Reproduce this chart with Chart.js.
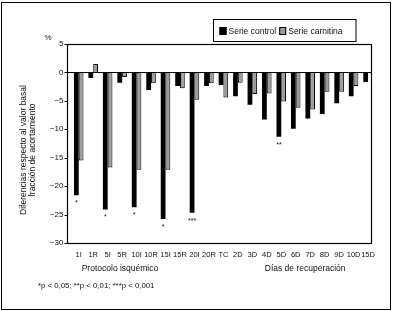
<!DOCTYPE html>
<html>
<head>
<meta charset="utf-8">
<script src="https://cdn.jsdelivr.net/npm/chart.js@4.4.1/dist/chart.umd.min.js"></script>
<style>
  html, body { margin: 0; padding: 0; background: #fff; }
  canvas { display: block; }
</style>
</head>
<body>
<canvas id="chart" width="395" height="311"></canvas>
<script>
const categories = ['1I', '1R', '5I', '5R', '10I', '10R', '15I', '15R', '20I', '20R', 'TC',
  '2D', '3D', '4D', '5D', '6D', '7D', '8D', '9D', '10D', '15D'];

const serieControl = [-21.6, -1.0, -24.1, -1.8, -23.7, -3.1, -25.8, -2.4, -24.7, -2.4, -2.2,
  -4.2, -5.7, -8.3, -11.3, -9.9, -8.1, -7.3, -5.4, -4.2, -1.7];

const serieCarnitina = [-15.5, 1.5, -16.7, -0.8, -17.1, -1.9, -17.1, -2.8, -4.8, -1.9, -4.4,
  -1.8, -3.8, -3.7, -5.1, -6.2, -6.5, -3.4, -3.4, -2.4, null];

// significance marks shown under the control bars
const significance = ['*', '', '*', '', '*', '', '*', '', '***', '', '',
  '', '', '', '**', '', '', '', '', '', ''];

const yMin = -30;
const yMax = 5;
const yStep = 5;

const groupTitles = ['Protocolo isquémico', 'Días de recuperación'];
const yTitle = ['Diferencias respecto al valor basal', 'fracción de acortamiento'];
const unitLabel = '%';
const footnote = '*p < 0,05; **p < 0,01; ***p < 0,001';

const colors = {
  black: '#000000',
  gray: '#9c9c9c',
  text: '#111111'
};
const fontFamily = '"Liberation Sans", Arial, Helvetica, sans-serif';

const decorPlugin = {
  id: 'decor',
  afterDraw(chart) {
    const ctx = chart.ctx;
    const ca = chart.chartArea;
    const x = chart.scales.x;
    const y = chart.scales.y;
    const frameL = Math.round(ca.left - 4.5) + 0.5;
    const frameR = Math.round(ca.right - 4.3) + 0.5;
    const frameT = Math.round(ca.top) + 0.5;
    const frameB = Math.round(ca.bottom) + 0.5;

    ctx.save();
    ctx.strokeStyle = colors.black;
    ctx.lineWidth = 1;

    // outer border
    ctx.strokeRect(1.5, 2.5, 389, 307);

    // plot frame
    ctx.lineWidth = 1.2;
    ctx.strokeRect(frameL, frameT, frameR - frameL, frameB - frameT);

    // y tick marks
    ctx.lineWidth = 1;
    y.ticks.forEach(t => {
      const py = Math.round(y.getPixelForValue(t.value)) + 0.5;
      ctx.beginPath();
      ctx.moveTo(frameL - 3, py);
      ctx.lineTo(frameL, py);
      ctx.stroke();
    });

    // zero line
    const y0 = Math.round(y.getPixelForValue(0)) + 0.5;
    ctx.lineWidth = 1.2;
    ctx.beginPath();
    ctx.moveTo(frameL, y0);
    ctx.lineTo(frameR, y0);
    ctx.stroke();

    // significance marks
    const meta = chart.getDatasetMeta(0);
    ctx.fillStyle = colors.text;
    ctx.font = '7px ' + fontFamily;
    ctx.textAlign = 'center';
    ctx.textBaseline = 'middle';
    significance.forEach((s, i) => {
      if (!s) return;
      const bar = meta.data[i];
      ctx.fillText(s, bar.x, bar.y + 8);
    });

    // % unit
    ctx.font = '8px ' + fontFamily;
    ctx.fillText(unitLabel, 48, 38);

    // y title
    ctx.save();
    ctx.translate(28, 150);
    ctx.rotate(-Math.PI / 2);
    ctx.font = '8.5px ' + fontFamily;
    ctx.fillText(yTitle[0], 0, -4.6);
    ctx.fillText(yTitle[1], 0, 4.6);
    ctx.restore();

    // group titles under the axis
    ctx.font = '8.5px ' + fontFamily;
    ctx.fillText(groupTitles[0], x.getPixelForValue(2.85), 269);
    ctx.fillText(groupTitles[1], x.getPixelForValue(15.65), 269);

    // footnote
    ctx.textAlign = 'left';
    ctx.font = '7.8px ' + fontFamily;
    ctx.fillText(footnote, 38, 286);

    // legend
    ctx.lineWidth = 1;
    ctx.strokeRect(213.5, 19.5, 142.5, 22);
    ctx.font = '8.5px ' + fontFamily;
    let lx = 219.5;
    chart.data.datasets.forEach(ds => {
      ctx.fillStyle = ds.backgroundColor;
      ctx.fillRect(lx, 27, 7, 8);
      ctx.strokeStyle = colors.black;
      ctx.strokeRect(lx + 0.5, 27.5, 6, 7);
      ctx.fillStyle = colors.text;
      ctx.fillText(ds.label, lx + 9, 31.5);
      lx += 9 + ctx.measureText(ds.label).width + 3;
    });

    ctx.restore();
  }
};

new Chart(document.getElementById('chart'), {
  type: 'bar',
  data: {
    labels: categories,
    datasets: [
      {
        label: 'Serie control',
        data: serieControl,
        backgroundColor: colors.black,
        borderColor: colors.black,
        borderWidth: 0,
        categoryPercentage: 0.66,
        barPercentage: 1
      },
      {
        label: 'Serie carnitina',
        data: serieCarnitina,
        backgroundColor: colors.gray,
        borderColor: colors.black,
        borderWidth: 1,
        categoryPercentage: 0.66,
        barPercentage: 1
      }
    ]
  },
  options: {
    responsive: false,
    animation: false,
    events: [],
    layout: {
      padding: { left: 10, right: 19.7, top: 44, bottom: 0 }
    },
    plugins: {
      legend: { display: false },
      tooltip: { enabled: false }
    },
    scales: {
      x: {
        offset: true,
        grid: { display: false, drawTicks: false },
        border: { display: false },
        ticks: {
          color: colors.text,
          font: { family: fontFamily, size: 7.5 },
          padding: 7,
          autoSkip: false,
          maxRotation: 0
        },
        afterFit: scale => { scale.height = 68; }
      },
      y: {
        min: yMin,
        max: yMax,
        grid: { display: false, drawTicks: false },
        border: { display: false },
        ticks: {
          stepSize: yStep,
          color: colors.text,
          font: { family: fontFamily, size: 8 },
          padding: 8,
          callback: v => String(v).replace('-', '\u2212')
        },
        afterFit: scale => { scale.width = 61.5; }
      }
    }
  },
  plugins: [decorPlugin]
});
</script>
</body>
</html>
